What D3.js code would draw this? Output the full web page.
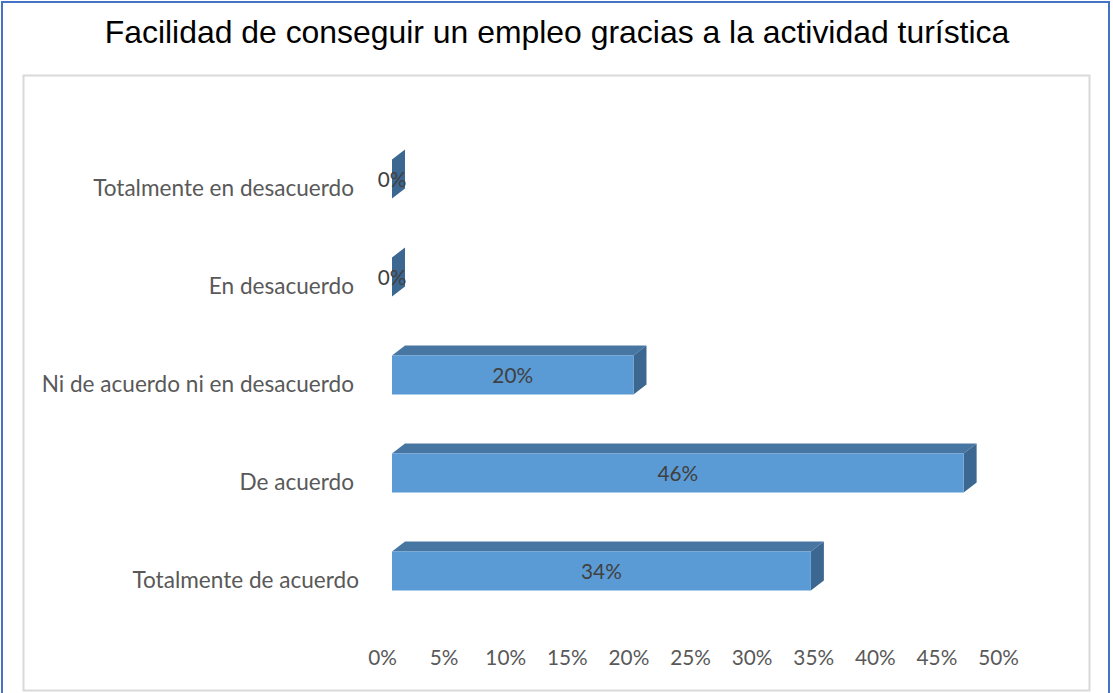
<!DOCTYPE html>
<html><head><meta charset="utf-8">
<script src="https://cdn.jsdelivr.net/npm/d3@7"></script>
<style>html,body{margin:0;padding:0;background:#fff;}svg{display:block;}</style>
</head><body>
<svg id="c" width="1113" height="693"></svg>
<script>
const title = "Facilidad de conseguir un empleo gracias a la actividad turística";
const categories = ["Totalmente en desacuerdo","En desacuerdo","Ni de acuerdo ni en desacuerdo","De acuerdo","Totalmente de acuerdo"];
const values = [0, 0, 0.196, 0.464, 0.34];
const ticks = [0,0.05,0.10,0.15,0.20,0.25,0.30,0.35,0.40,0.45,0.50];

const svg = d3.select("#c");
const lblFont = "Lato, 'Open Sans', sans-serif";

// outer frame
svg.append("rect").attr("x",2).attr("y",2).attr("width",1107).attr("height",700)
  .attr("fill","#fff").attr("stroke","#4472c4").attr("stroke-width",2);
// plot frame
svg.append("rect").attr("x",23.5).attr("y",75.5).attr("width",1066).attr("height",615)
  .attr("fill","#fff").attr("stroke","#d9d9d9").attr("stroke-width",2);

// title
const t = svg.append("text").text(title).attr("x",557).attr("y",43)
  .attr("text-anchor","middle").attr("font-family","'Liberation Sans', Arial, sans-serif")
  .attr("font-size",30).attr("fill","#000");
const tw = t.node().getComputedTextLength();
t.attr("font-size", 30*905/tw);

const x = d3.scaleLinear().domain([0,0.5]).range([392, 1008]);
const y = d3.scaleBand().domain(categories).range([139.5, 629.5]);
const dx = 13, dy = -10, fh = 39;
const cy = c => y(c) + y.bandwidth()/2;

// category labels
const cl = svg.append("g").selectAll("text").data(categories).join("text")
  .text(d=>d).attr("text-anchor","end")
  .attr("x",(d,i)=> i===categories.length-1 ? 359 : 354)
  .attr("y",d=>cy(d)+7)
  .attr("font-family",lblFont).attr("font-size",20).attr("fill","#595959");
const w0 = cl.filter((d,i)=>i===0).node().getComputedTextLength();
const lfs = 20*261/w0;
cl.attr("font-size",lfs);

// bars
const bars = svg.append("g").selectAll("g").data(categories.map((c,i)=>({c,v:values[i]}))).join("g");
bars.each(function(d){
  const g = d3.select(this);
  const x0 = x(0), x1 = x(d.v), top = cy(d.c) - 29, bot = top + fh;
  // top face
  if (x1 > x0) {
    g.append("path").attr("d",`M${x0},${top}L${x0+dx},${top+dy}L${x1+dx},${top+dy}L${x1},${top}Z`)
      .attr("fill","#4876a3");
  }
  // side face
  g.append("path").attr("d",`M${x1},${top}L${x1+dx},${top+dy}L${x1+dx},${bot+dy}L${x1},${bot}Z`)
    .attr("fill","#3c6790");
  // front face
  if (x1 > x0) {
    g.append("rect").attr("x",x0).attr("y",top).attr("width",x1-x0).attr("height",fh)
      .attr("fill","#5b9bd5");
  }
  g.append("text").text(d3.format(".0%")(d.v))
    .attr("x", x1 > x0 ? (x0+x1)/2 : x0)
    .attr("y", top + fh/2 + 8)
    .attr("text-anchor","middle").attr("font-family",lblFont)
    .attr("font-size",lfs*0.92).attr("fill","#404040");
});

// axis
const ax = svg.append("g").attr("transform","translate(-10,665)")
  .call(d3.axisBottom(x).tickValues(ticks).tickFormat(d3.format(".0%")).tickSize(0).tickPadding(0));
ax.select(".domain").remove();
ax.selectAll("text").attr("dy",0).attr("font-family",lblFont).attr("font-size",lfs*0.92).attr("fill","#595959");
</script>
</body></html>
